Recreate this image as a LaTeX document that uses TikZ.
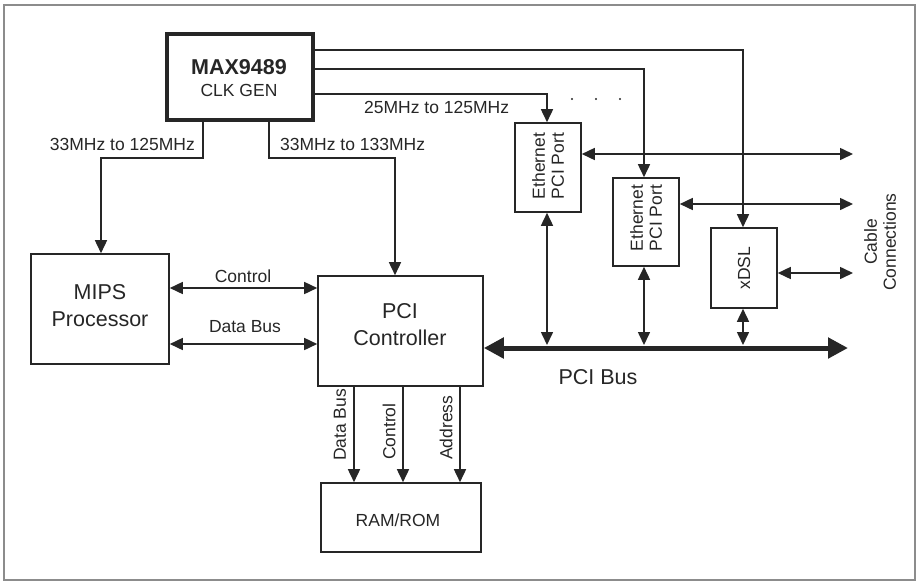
\documentclass[tikz,border=0pt]{standalone}
\usepackage{fontspec}
\setmainfont{Liberation Sans}
\usetikzlibrary{arrows.meta,calc}
\definecolor{ink}{HTML}{262626}
\definecolor{framec}{HTML}{8C8C8C}
\begin{document}
\begin{tikzpicture}[x=1pt,y=-1pt,
  every node/.style={text=ink},
  box/.style={draw=ink, line width=1.6pt, inner sep=0pt, align=center},
  big/.style={font=\fontsize{21.5}{27}\selectfont},
  lbl/.style={font=\fontsize{17.5}{19}\selectfont, inner sep=0pt, align=center},
  wire/.style={draw=ink, line width=1.6pt},
  arr/.style={wire, -{Triangle[length=13pt,width=12pt]}},
  biarr/.style={wire, {Triangle[length=13pt,width=12pt]}-{Triangle[length=13pt,width=12pt]}},
  bus/.style={draw=ink, line width=5pt, {Triangle[length=20pt,width=20pt]}-{Triangle[length=20pt,width=20pt]}}
]
\useasboundingbox (0,0) rectangle (919,582);
\draw[framec, line width=2pt] (4,5) rectangle (915,580);

% boxes
\node[box, line width=3.5pt, minimum width=146pt, minimum height=86pt] (max) at (240,77) {};
\node[font=\bfseries\fontsize{21.5}{23}\selectfont, inner sep=0pt] (maxa) at (239,67) {MAX9489};
\node[lbl] (maxb) at (239,90) {CLK GEN};

\node[box, minimum width=138pt, minimum height=110pt] (mips) at (100,309) {};
\node[big, align=center, inner sep=0pt] (mipst) at (100,306) {MIPS\\Processor};

\node[box, minimum width=165pt, minimum height=110pt] (pci) at (400.5,331) {};
\node[big, align=center, inner sep=0pt] (pcit) at (400,325) {PCI\\Controller};

\node[box, minimum width=160pt, minimum height=69pt] (ram) at (401,517.5) {};
\node[lbl] (ramt) at (398,520) {RAM/ROM};

\node[box, minimum width=66pt, minimum height=89pt] (eth1) at (548,167.5) {};
\node[lbl, rotate=90] (eth1t) at (548,166) {Ethernet\\PCI Port};
\node[box, minimum width=66pt, minimum height=88pt] (eth2) at (646,222) {};
\node[lbl, rotate=90] (eth2t) at (646,218) {Ethernet\\PCI Port};
\node[box, minimum width=66pt, minimum height=80pt] (xdsl) at (744,268) {};
\node[lbl, rotate=90] (xdslt) at (744,268) {xDSL};

% clock lines
\draw[arr] ([yshift=27pt]max.east) -| ([xshift=-1pt]xdsl.north);
\draw[arr] ([yshift=8pt]max.east) -| ([xshift=-2pt]eth2.north);
\draw[arr] ([yshift=-17pt]max.east) -| ([xshift=-1pt]eth1.north);
\node[lbl, anchor=west] (l25) at (364,107) {25MHz to 125MHz};
\foreach \i/\xx in {1/572,2/596,3/620} \fill[ink] (\xx,99) circle (1.1pt);

\draw[arr] ([xshift=-37pt]max.south) -- ++(0,36) -| ([xshift=1pt]mips.north);
\node[lbl, anchor=east] (l33a) at (195,144) {33MHz to 125MHz};
\draw[arr] ([xshift=29pt]max.south) -- ++(0,36) -| ([xshift=-5.5pt]pci.north);
\node[lbl, anchor=west] (l33b) at (280,144) {33MHz to 133MHz};

% MIPS <-> PCI
\draw[biarr] ([yshift=21pt]mips.east) -- ([yshift=43pt]pci.west);
\node[lbl] (lctl) at (243,276) {Control};
\draw[biarr] ([yshift=-35pt]mips.east) -- ([yshift=-13pt]pci.west);
\node[lbl] (ldb) at (245,327) {Data Bus};

% PCI -> RAM
\draw[arr] ([xshift=-46.5pt]pci.south) coordinate (r1) -- (r1 |- ram.north);
\draw[arr] ([xshift=2.5pt]pci.south) coordinate (r2) -- (r2 |- ram.north);
\draw[arr] ([xshift=59.5pt]pci.south) coordinate (r3) -- (r3 |- ram.north);
\node[lbl, rotate=90, anchor=west] (lrdb) at (340,461) {Data Bus};
\node[lbl, rotate=90, anchor=west] (lrctl) at (389,460) {Control};
\node[lbl, rotate=90, anchor=west] (lradr) at (446,460) {Address};

% PCI bus
\coordinate (busR) at (848,348);
\draw[bus] ([yshift=-17pt]pci.east) -- (busR);
\node[big, inner sep=0pt] (lbus) at (598,377) {PCI Bus};
\coordinate (busT) at (0,345);
\draw[biarr] ([xshift=-1pt]eth1.south) -- ([xshift=-1pt]eth1.south |- busT);
\draw[biarr] ([xshift=-2pt]eth2.south) -- ([xshift=-2pt]eth2.south |- busT);
\draw[biarr] ([xshift=-1pt]xdsl.south) -- ([xshift=-1pt]xdsl.south |- busT);

% cable connections
\coordinate (cab) at (853,0);
\draw[biarr] ([yshift=13.5pt]eth1.east) coordinate (c1) -- (c1 -| cab);
\draw[biarr] ([yshift=18pt]eth2.east) coordinate (c2) -- (c2 -| cab);
\draw[biarr] ([yshift=-5pt]xdsl.east) coordinate (c3) -- (c3 -| cab);
\node[lbl, rotate=90] (lcab) at (880,242) {Cable\\Connections};
\end{tikzpicture}
\end{document}
